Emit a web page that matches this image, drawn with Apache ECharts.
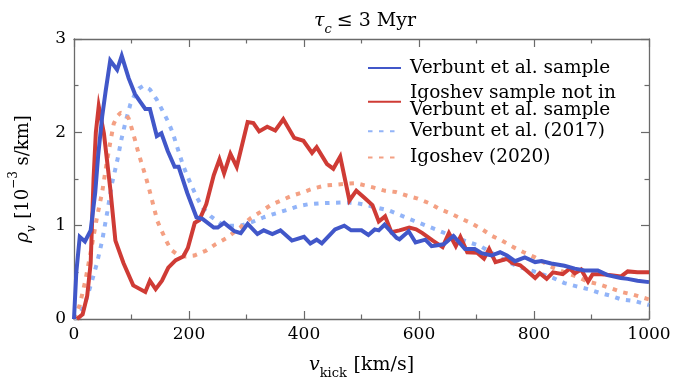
<!DOCTYPE html>
<html>
<head>
<meta charset="utf-8">
<script src="https://cdn.jsdelivr.net/npm/echarts@6/dist/echarts.min.js"></script>
<style>html,body{margin:0;padding:0;background:#fff}#c{width:691px;height:385px}</style>
</head>
<body>
<div id="c"></div>
<script>
// ---- data ----
const xTicks = [0, 200, 400, 600, 800, 1000];
const yTicks = [0, 1, 2, 3];

const verbuntSampleV = [0,4,10,19,29,37,42,49,55,63,75,83,95,106,115,124,132,144,152,163,175,182,197,213,224,243,250,261,279,290,302,319,330,345,359,379,400,411,422,431,454,470,482,500,512,523,530,540,561,566,582,594,611,622,643,660,680,697,709,726,741,753,767,784,802,813,830,853,871,888,911,928,951,963,980,1000];
const verbuntSampleRho = [0,0.5,0.88,0.83,0.95,1.36,1.75,2.17,2.44,2.77,2.67,2.82,2.58,2.41,2.33,2.25,2.25,1.96,1.99,1.80,1.63,1.63,1.35,1.09,1.07,0.98,0.98,1.03,0.94,0.92,1.02,0.91,0.95,0.91,0.95,0.84,0.88,0.81,0.85,0.81,0.96,1.0,0.95,0.95,0.90,0.96,0.95,1.01,0.87,0.854,0.94,0.82,0.85,0.78,0.80,0.89,0.75,0.75,0.705,0.68,0.715,0.68,0.62,0.66,0.61,0.62,0.594,0.57,0.54,0.52,0.52,0.47,0.44,0.43,0.41,0.395];

const igoshevSampleV = [5,15,23,29,34,38,43,52,63,72,86,103,124,132,142,153,164,177,190,198,210,218,230,243,253,261,272,283,302,312,322,336,350,364,383,399,414,422,440,451,463,479,491,505,519,530,541,552,566,583,595,606,624,641,652,664,672,684,701,713,722,733,753,762,776,787,802,810,822,833,850,862,871,882,894,902,917,934,951,963,980,1000];
const igoshevSampleRho = [0,0.05,0.25,0.6,1.5,2.0,2.28,1.99,1.40,0.84,0.60,0.36,0.29,0.41,0.32,0.41,0.55,0.63,0.67,0.76,1.03,1.06,1.23,1.54,1.71,1.56,1.77,1.63,2.11,2.10,2.01,2.06,2.02,2.14,1.94,1.91,1.78,1.84,1.66,1.61,1.74,1.27,1.375,1.30,1.22,1.045,1.10,0.93,0.95,0.98,0.96,0.92,0.84,0.77,0.92,0.78,0.88,0.715,0.71,0.646,0.75,0.61,0.646,0.6,0.576,0.52,0.44,0.49,0.43,0.50,0.48,0.54,0.49,0.53,0.40,0.48,0.48,0.47,0.455,0.51,0.50,0.50];

const verbunt2017V = [0,10,20,30,40,49,58,66,75,83,90,98,106,113,121,132,144,155,164,172,178,190,198,213,224,238,256,270,290,310,330,350,371,391,408,428,448,469,489,509,549,592,629,669,707,737,772,800,833,853,874,894,914,933,952,973,1000];
const verbunt2017Rho = [0,0.05,0.18,0.38,0.60,0.84,1.15,1.45,1.69,1.94,2.12,2.30,2.41,2.47,2.50,2.46,2.35,2.22,2.11,1.99,1.87,1.64,1.52,1.31,1.19,1.10,1.02,1.00,1.00,1.04,1.09,1.13,1.17,1.21,1.23,1.24,1.245,1.25,1.245,1.22,1.16,1.05,0.96,0.86,0.78,0.67,0.56,0.51,0.44,0.385,0.35,0.32,0.28,0.25,0.21,0.195,0.15];

const igoshev2020V = [0,10,20,30,40,49,56,63,69,75,81,88,95,100,106,112,118,124,130,135,140,145,152,161,169,180,195,209,229,246,266,289,307,325,342,360,379,399,417,437,457,474,490,520,540,560,580,598,618,635,655,672,690,710,727,744,764,782,802,836,874,894,914,933,952,973,1000];
const igoshev2020Rho = [0,0.15,0.42,0.75,1.09,1.36,1.64,1.89,2.09,2.17,2.21,2.20,2.15,2.05,1.92,1.78,1.66,1.54,1.41,1.29,1.17,1.05,0.95,0.83,0.74,0.69,0.67,0.68,0.73,0.80,0.87,0.98,1.08,1.15,1.22,1.27,1.32,1.36,1.40,1.43,1.44,1.45,1.455,1.41,1.375,1.36,1.32,1.29,1.24,1.18,1.13,1.08,1.03,0.96,0.89,0.84,0.77,0.715,0.66,0.54,0.455,0.40,0.37,0.33,0.29,0.26,0.21];

const seriesNames = [
  'Verbunt et al. sample',
  'Igoshev sample not in\nVerbunt et al. sample',
  'Verbunt et al. (2017)',
  'Igoshev (2020)'
];
const seriesColors = ['#4157c9', '#cf3b35', '#92b4f8', '#f4a083'];

// ---- chart ----
const zip = (a, b) => a.map((v, i) => [v, b[i]]);
const FONT = 'DejaVu Serif';
const AX = '#6a6a6a';

const chart = echarts.init(document.getElementById('c'), null, {renderer: 'canvas'});

function richSet(size) {
  const s = Math.round(size * 0.68);
  return {
    i: {fontFamily: FONT, fontStyle: 'italic', fontWeight: 'normal', fontSize: size, lineHeight: 30, color: '#000'},
    n: {fontFamily: FONT, fontWeight: 'normal', fontSize: size, lineHeight: 30, color: '#000'},
    sub: {fontFamily: FONT, fontWeight: 'normal', fontSize: s, lineHeight: 10, verticalAlign: 'bottom', color: '#000'},
    subi: {fontFamily: FONT, fontStyle: 'italic', fontWeight: 'normal', fontSize: s, lineHeight: 10, verticalAlign: 'bottom', color: '#000'},
    sup: {fontFamily: FONT, fontWeight: 'normal', fontSize: s, lineHeight: 12, verticalAlign: 'top', color: '#000'}
  };
}

function xAxisCfg(pos, labels) {
  return {
    type: 'value', position: pos, min: 0, max: 1000, interval: 200,
    axisLine: {show: true, onZero: false, lineStyle: {color: AX, width: 1.3}},
    axisTick: {show: true, inside: true, length: 8, lineStyle: {color: AX, width: 1.2}},
    minorTick: {show: true, splitNumber: 2, length: 4.5, lineStyle: {color: AX, width: 1.2}},
    splitLine: {show: false},
    axisLabel: {show: labels, margin: 7, color: '#000', fontFamily: FONT, fontSize: 17,
      formatter: v => xTicks.includes(v) ? String(v) : ''},
  };
}
function yAxisCfg(pos, labels) {
  return {
    type: 'value', position: pos, min: 0, max: 3, interval: 1,
    axisLine: {show: true, onZero: false, lineStyle: {color: AX, width: 1.3}},
    axisTick: {show: true, inside: true, length: 8, lineStyle: {color: AX, width: 1.2}},
    minorTick: {show: true, splitNumber: 2, length: 4.5, lineStyle: {color: AX, width: 1.2}},
    splitLine: {show: false},
    axisLabel: {show: labels, margin: 8, color: '#000', fontFamily: FONT, fontSize: 17,
      formatter: v => yTicks.includes(v) ? String(v) : ''},
  };
}

const xBottom = xAxisCfg('bottom', true);
xBottom.name = '{i|v}{sub|kick}  {n|[km/s]}';
xBottom.nameLocation = 'middle';
xBottom.nameGap = 31;
xBottom.nameTextStyle = {rich: richSet(19)};

const yLeft = yAxisCfg('left', true);
yLeft.name = '{i|ρ}{subi|v}  {n|[10}{sup|−3}{n| s/km]}';
yLeft.nameLocation = 'middle';
yLeft.nameRotate = 90;
yLeft.nameGap = 36;
yLeft.nameTextStyle = {rich: richSet(18)};

function lineSeries(idx, v, rho, dotted, z) {
  return {
    name: seriesNames[idx], type: 'line', data: zip(v, rho),
    xAxisIndex: 0, yAxisIndex: 0,
    symbol: 'none', smooth: false, z: z, animation: false,
    color: seriesColors[idx],
    lineStyle: dotted
      ? {color: seriesColors[idx], width: 4, type: [4.5, 6.5], cap: 'butt'}
      : {color: seriesColors[idx], width: 4, join: 'miter', cap: 'butt'}
  };
}

// one legend per entry so each row sits where the reference puts it
const legendCenters = [68, 100.7, 131.3, 157.5];
const legendLineHeights = [20, 17, 20, 20];
const legends = seriesNames.map((nm, i) => {
  const lines = nm.split('\n').length;
  const h = lines * legendLineHeights[i];
  return {
    orient: 'vertical', left: 367, top: legendCenters[i] - h / 2,
    padding: 0,
    itemWidth: 33, itemHeight: 12, itemGap: 0,
    data: [nm],
    itemStyle: {opacity: 0},
    textStyle: {fontFamily: FONT, fontSize: 18.5, lineHeight: legendLineHeights[i], color: '#000', padding: [0, 0, 0, 4]}
  };
});

chart.setOption({
  animation: false,
  backgroundColor: '#fff',
  title: {
    text: '{i|τ}{subi|c} {n|≤ 3 Myr}',
    left: 360, top: 1, textAlign: 'center',
    textStyle: {fontWeight: 'normal', rich: richSet(19)}
  },
  grid: {left: 70, right: 42, top: 39, bottom: 59, containLabel: false},
  xAxis: [xBottom, xAxisCfg('top', false)],
  yAxis: [yLeft, yAxisCfg('right', false)],
  legend: legends,
  series: [
    lineSeries(2, verbunt2017V, verbunt2017Rho, true, 2),
    lineSeries(3, igoshev2020V, igoshev2020Rho, true, 2),
    lineSeries(1, igoshevSampleV, igoshevSampleRho, false, 3),
    lineSeries(0, verbuntSampleV, verbuntSampleRho, false, 4)
  ]
});
</script>
</body>
</html>
